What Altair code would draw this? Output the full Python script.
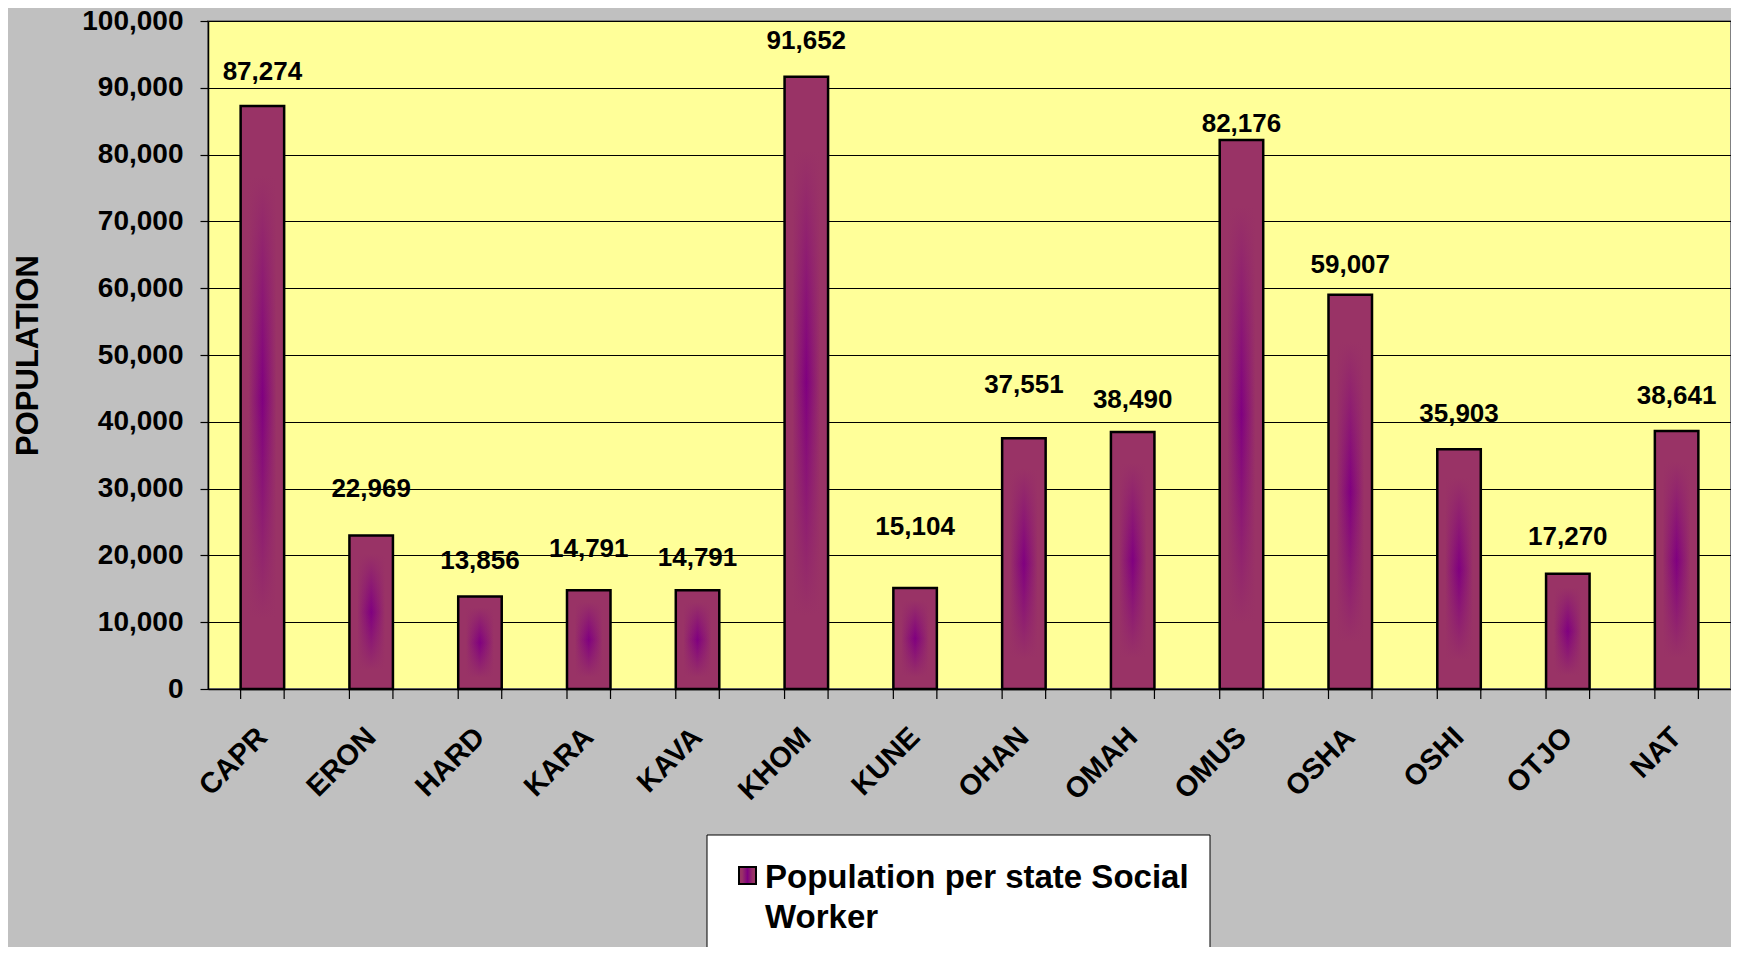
import altair as alt
import pandas as pd

regions = ["CAPR", "ERON", "HARD", "KARA", "KAVA", "KHOM", "KUNE",
           "OHAN", "OMAH", "OMUS", "OSHA", "OSHI", "OTJO", "NAT"]
population_per_worker = [87274, 22969, 13856, 14791, 14791, 91652, 15104,
                         37551, 38490, 82176, 59007, 35903, 17270, 38641]
# gap (px) between each value label's baseline and its bar top, as placed in the original
label_gap_px = [26, 39, 27, 33, 24, 28, 53, 45, 24, 8, 22, 27, 29, 27]
y_ticks = list(range(0, 100001, 10000))
series_name = ["Population per state Social", "Worker"]

W, H = 1523, 668
YMAX = 100000
FONT = "Liberation Sans"

df = pd.DataFrame({"cat": regions, "v": population_per_worker, "gap": label_gap_px})

xscale = alt.Scale(domain=regions, paddingInner=0.6, paddingOuter=0.3)
yscale = alt.Scale(domain=[0, YMAX], nice=False)

x_axis = alt.Axis(title=None, labelAngle=-45, labelAlign="right", labelBaseline="middle",
                  labelFont=FONT, labelFontSize=29, labelFontWeight="bold", labelColor="black",
                  labelPadding=43, ticks=False, domainColor="black", domainWidth=1.5,
                  labelOverlap=False, grid=False)
y_axis = alt.Axis(title="POPULATION", values=y_ticks,
                  labelExpr="format(datum.value, ',')",
                  labelFont=FONT, labelFontSize=28, labelFontWeight="bold", labelColor="black",
                  labelPadding=17, tickSize=8, tickColor="black", tickWidth=1.2,
                  domainColor="black", domainWidth=1.5, labelOverlap=False,
                  grid=True, gridColor="black", gridWidth=1,
                  titleFont=FONT, titleFontSize=31, titleFontWeight="bold", titleColor="black",
                  titleX=-171, titleY=H / 2, titleBaseline="alphabetic", titleAngle=-90)

X = alt.X("cat:N", sort=regions, scale=xscale, axis=x_axis)
Y = alt.Y("v:Q", scale=yscale, axis=y_axis)

edge = "#993366"
center = "#800080"
h_grad = alt.LinearGradient(
    gradient="linear", x1=0, x2=1, y1=0, y2=0,
    stops=[alt.GradientStop(offset=0, color=edge),
           alt.GradientStop(offset=0.18, color=edge),
           alt.GradientStop(offset=0.5, color=center),
           alt.GradientStop(offset=0.82, color=edge),
           alt.GradientStop(offset=1, color=edge)])
v_overlay = alt.LinearGradient(
    gradient="linear", x1=0, x2=0, y1=0, y2=1,
    stops=[alt.GradientStop(offset=0, color="rgba(153,51,102,1)"),
           alt.GradientStop(offset=0.12, color="rgba(153,51,102,1)"),
           alt.GradientStop(offset=0.5, color="rgba(153,51,102,0)"),
           alt.GradientStop(offset=0.88, color="rgba(153,51,102,1)"),
           alt.GradientStop(offset=1, color="rgba(153,51,102,1)")])

base = alt.Chart(df)

bars1 = base.mark_bar(fill=h_grad, strokeWidth=0).encode(x=X, y=Y)
bars2 = base.mark_bar(fill=v_overlay, stroke="black", strokeWidth=2.5).encode(x=X, y=Y)

labels = base.transform_calculate(
    ly=f"datum.v + datum.gap * {YMAX} / {H}"
).mark_text(font=FONT, fontSize=26, fontWeight="bold", color="black",
            baseline="alphabetic", align="center").encode(
    x=X,
    y=alt.Y("ly:Q", scale=yscale, axis=y_axis),
    text=alt.Text("v:Q", format=","),
)

tick_l = base.mark_rule(color="black", strokeWidth=1.2).encode(
    x=alt.X("cat:N", sort=regions, scale=xscale, axis=x_axis, bandPosition=0),
    y=alt.value(H), y2=alt.value(H + 10))
tick_r = base.mark_rule(color="black", strokeWidth=1.2).encode(
    x=alt.X("cat:N", sort=regions, scale=xscale, axis=x_axis, bandPosition=1),
    y=alt.value(H), y2=alt.value(H + 10))

one = pd.DataFrame({"k": [0]})
leg_box = alt.Chart(one).mark_rect(fill="white", stroke="black", strokeWidth=1).encode(
    x=alt.value(499), x2=alt.value(1002), y=alt.value(814), y2=alt.value(H + 300))
leg_sym = alt.Chart(one).mark_rect(fill=h_grad, stroke="black", strokeWidth=2).encode(
    x=alt.value(531), x2=alt.value(548), y=alt.value(846), y2=alt.value(863))
leg_txt = alt.Chart(one).mark_text(text=series_name, font=FONT, fontSize=33, fontWeight="bold",
                                   color="black", align="left", baseline="alphabetic",
                                   lineHeight=40).encode(
    x=alt.value(557), y=alt.value(867))

chart = alt.layer(bars1, bars2, labels, tick_l, tick_r, leg_box, leg_sym, leg_txt).properties(
    width=W, height=H,
    autosize=alt.AutoSizeParams(type="none"),
    padding={"left": 200, "top": 13, "right": 0, "bottom": 258},
).configure(background="#C0C0C0").configure_view(fill="#FFFF99", stroke="#808080", strokeWidth=2)

chart.save("out.html", embed_options={"renderer": "svg", "actions": False})
